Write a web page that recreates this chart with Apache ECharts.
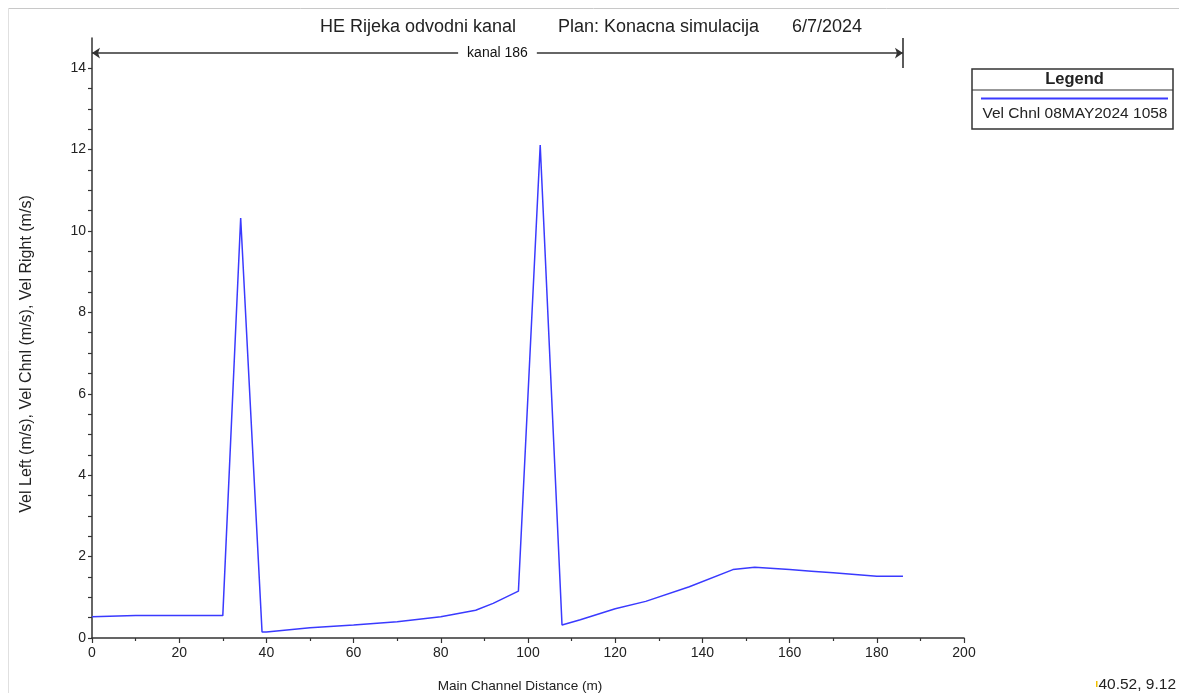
<!DOCTYPE html>
<html>
<head>
<meta charset="utf-8">
<script src="https://cdn.jsdelivr.net/npm/echarts@6/dist/echarts.min.js"></script>
<style>html,body{margin:0;padding:0;background:#fff;}#chart{width:1179px;height:693px;}</style>
</head>
<body>
<div id="chart"></div>
<script>
// Main channel distance (m)
var distance = [0, 10, 30, 34.1, 39, 40, 50, 60, 70, 80, 88, 92, 97.8, 102.8, 107.8, 112, 120, 127, 137, 147, 152, 160, 165, 170, 175, 180, 186];
// Vel Chnl 08MAY2024 1058 (m/s)
var velChnl = [0.52, 0.55, 0.55, 10.32, 0.15, 0.15, 0.25, 0.32, 0.40, 0.52, 0.68, 0.85, 1.15, 12.11, 0.32, 0.45, 0.72, 0.90, 1.26, 1.68, 1.74, 1.68, 1.64, 1.60, 1.56, 1.52, 1.52];
var yLabelValues = [0, 2, 4, 6, 8, 10, 12, 14];
var yTickValues = [0,0.5,1,1.5,2,2.5,3,3.5,4,4.5,5,5.5,6,6.5,7,7.5,8,8.5,9,9.5,10,10.5,11,11.5,12,12.5,13,13.5,14];
var reachStart = 0, reachEnd = 186, reachLabel = 'kanal 186';
var reachLevel = 14.37, axisTop = 14.74;

var FONT = '"Liberation Sans", Arial, sans-serif';
var chart = echarts.init(document.getElementById('chart'), null, {renderer: 'canvas'});
var pts = distance.map(function (d, i) { return [d, velChnl[i]]; });

chart.setOption({
  animation: false,
  backgroundColor: '#fff',
  grid: {left: 92, right: 215, top: 38, bottom: 55},
  xAxis: {
    type: 'value', min: 0, max: 200, interval: 20,
    axisLine: {show: true, onZero: false, lineStyle: {color: '#333', width: 1.5}},
    axisTick: {show: true, length: 5, lineStyle: {color: '#333', width: 1.2}},
    minorTick: {show: true, splitNumber: 2, length: 3, lineStyle: {color: '#333', width: 1.2}},
    axisLabel: {color: '#222', fontSize: 14, fontFamily: FONT, margin: 8},
    splitLine: {show: false}
  },
  yAxis: {
    type: 'value', min: 0, max: axisTop,
    axisLine: {show: true, onZero: false, lineStyle: {color: '#333', width: 1.5}},
    axisTick: {show: true, length: 4, customValues: yTickValues, lineStyle: {color: '#333', width: 1.2}},
    axisLabel: {color: '#222', fontSize: 14, fontFamily: FONT, margin: 6, customValues: yLabelValues},
    splitLine: {show: false}
  },
  series: [
    {
      type: 'line', data: pts, symbol: 'none', z: 3,
      lineStyle: {color: '#3a3aff', width: 1.5},
      markLine: {
        silent: true, symbol: ['none', 'none'],
        label: {show: false},
        lineStyle: {color: '#333', width: 1.6, type: 'solid'},
        data: [
          [{coord: [reachStart, reachLevel], symbol: 'arrow', symbolSize: 8},
           {coord: [reachEnd, reachLevel], symbol: 'arrow', symbolSize: 8}],
          [{coord: [reachEnd, 14], symbol: 'none'}, {coord: [reachEnd, axisTop], symbol: 'none'}]
        ]
      }
    },
    {
      type: 'scatter', z: 6, symbolSize: 2, itemStyle: {color: 'rgba(0,0,0,0)'}, silent: true,
      data: [[(reachStart + reachEnd) / 2, reachLevel]],
      label: {show: true, position: 'inside', formatter: reachLabel, color: '#111', opacity: 1, fontSize: 14, fontFamily: FONT,
              backgroundColor: '#fff', padding: [1, 9]}
    }
  ],
  graphic: [
    {type: 'line', shape: {x1: 8, y1: 8.5, x2: 1179, y2: 8.5}, style: {stroke: '#c8c8c8', lineWidth: 1}},
    {type: 'line', shape: {x1: 8.5, y1: 8, x2: 8.5, y2: 693}, style: {stroke: '#e0e0e0', lineWidth: 1}},
    {type: 'text', style: {text: 'HE Rijeka odvodni kanal', x: 320, y: 27, font: '18px ' + FONT, fill: '#222', align: 'left', verticalAlign: 'middle'}},
    {type: 'text', style: {text: 'Plan: Konacna simulacija', x: 558, y: 27, font: '18px ' + FONT, fill: '#222', align: 'left', verticalAlign: 'middle'}},
    {type: 'text', style: {text: '6/7/2024', x: 792, y: 27, font: '18px ' + FONT, fill: '#222', align: 'left', verticalAlign: 'middle'}},
    {type: 'text', rotation: Math.PI / 2, x: 26.5, y: 354,
     style: {text: 'Vel Left (m/s), Vel Chnl (m/s), Vel Right (m/s)', x: 0, y: 0, font: '16px ' + FONT, fill: '#222', align: 'center', verticalAlign: 'middle'}},
    {type: 'text', style: {text: 'Main Channel Distance (m)', x: 520, y: 686, font: '13.6px ' + FONT, fill: '#222', align: 'center', verticalAlign: 'middle'}},
    {type: 'text', style: {text: '40.52, 9.12', x: 1176, y: 685, font: '15.5px ' + FONT, fill: '#222', align: 'right', verticalAlign: 'middle'}},
    {type: 'rect', shape: {x: 1096, y: 681, width: 1.5, height: 6}, style: {fill: '#f0c000'}},
    {type: 'rect', shape: {x: 972, y: 69, width: 201, height: 60}, style: {fill: '#fff', stroke: '#333', lineWidth: 1.5}},
    {type: 'line', shape: {x1: 972, y1: 90, x2: 1173, y2: 90}, style: {stroke: '#333', lineWidth: 1.2}},
    {type: 'text', style: {text: 'Legend', x: 1074.5, y: 79, font: 'bold 16.5px ' + FONT, fill: '#222', align: 'center', verticalAlign: 'middle'}},
    {type: 'line', shape: {x1: 981, y1: 98.5, x2: 1168, y2: 98.5}, style: {stroke: '#3a3aff', lineWidth: 2}},
    {type: 'text', style: {text: 'Vel Chnl 08MAY2024 1058', x: 1075, y: 114, font: '15.5px ' + FONT, fill: '#222', align: 'center', verticalAlign: 'middle'}}
  ]
});
</script>
</body>
</html>
